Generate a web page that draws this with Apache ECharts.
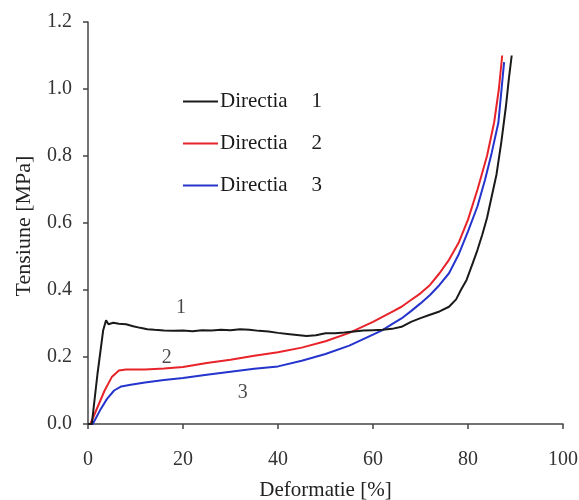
<!DOCTYPE html>
<html>
<head>
<meta charset="utf-8">
<script src="https://cdn.jsdelivr.net/npm/echarts@6/dist/echarts.min.js"></script>
<style>
  html, body { margin: 0; padding: 0; background: #fff; }
  #main { width: 579px; height: 500px; }
</style>
</head>
<body>
<div id="main"></div>
<script>
// deformation [%] vs tension [MPa]
var dir1 = [[0, 0], [0.8, 0], [2, 0.15], [3.2, 0.28], [3.8, 0.31], [4.3, 0.298], [5.3, 0.302], [6.5, 0.299],
  [8, 0.298], [9.5, 0.292], [11, 0.287], [12.5, 0.283], [14, 0.281], [16, 0.279], [18, 0.278], [20, 0.279],
  [22, 0.277], [24, 0.28], [26, 0.279], [28, 0.281], [30, 0.28], [32, 0.283], [34, 0.281], [36, 0.278],
  [38, 0.276], [40, 0.272], [42, 0.269], [44, 0.266], [46, 0.263], [48, 0.265], [50, 0.271], [52, 0.271],
  [54, 0.273], [56, 0.276], [58, 0.279], [60, 0.28], [62, 0.281], [64, 0.284], [66, 0.29], [68, 0.305],
  [70, 0.316], [72, 0.326], [74, 0.336], [76, 0.35], [77.5, 0.372], [78.5, 0.4], [79.7, 0.43], [81, 0.48],
  [82, 0.52], [83, 0.565], [84, 0.615], [85, 0.68], [86, 0.745], [87, 0.84], [88, 0.95], [88.6, 1.03], [89.2, 1.1]];
var dir2 = [[0, 0], [0.5, 0], [2, 0.05], [3.5, 0.1], [5, 0.14], [6.5, 0.16], [8, 0.163], [12, 0.163],
  [16, 0.166], [20, 0.17], [25, 0.182], [30, 0.192], [35, 0.204], [40, 0.214], [45, 0.228], [50, 0.247],
  [55, 0.272], [60, 0.305], [62, 0.32], [64, 0.335], [66, 0.35], [68, 0.37], [70, 0.39], [72, 0.415],
  [74, 0.45], [76, 0.49], [78, 0.54], [80, 0.61], [82, 0.7], [84, 0.8], [85.5, 0.9], [86.5, 1.0], [87.2, 1.1]];
var dir3 = [[0, 0], [1, 0], [2.5, 0.04], [4, 0.075], [5.5, 0.1], [7, 0.112], [9, 0.117], [12, 0.124],
  [16, 0.131], [20, 0.137], [25, 0.147], [30, 0.156], [35, 0.165], [40, 0.172], [45, 0.189], [50, 0.209],
  [55, 0.234], [60, 0.267], [62, 0.28], [64, 0.298], [66, 0.315], [68, 0.337], [70, 0.36], [72, 0.385],
  [74, 0.415], [76, 0.45], [78, 0.505], [80, 0.575], [82, 0.65], [83.6, 0.73], [85, 0.81], [86.4, 0.9], [87.6, 1.08]];
var seriesNames = ['Directia 1', 'Directia 2', 'Directia 3'];
var seriesColors = ['#1a1a1a', '#e8232a', '#2434cc'];
// curve numbers written inside the plot
var curveLabels = [[19.6, 0.346, '1'], [16.6, 0.197, '2'], [32.6, 0.093, '3']];

var serif = '"Liberation Serif", "Times New Roman", serif';
var myChart = echarts.init(document.getElementById('main'));

var lines = [dir1, dir2, dir3].map(function (d, i) {
  return {
    name: seriesNames[i],
    type: 'line',
    data: d,
    showSymbol: false,
    color: seriesColors[i],
    lineStyle: { width: 2, color: seriesColors[i] },
    z: 3 - i
  };
});

lines.push({
  type: 'scatter',
  data: curveLabels,
  symbolSize: 0,
  silent: true,
  label: {
    show: true,
    position: 'inside',
    formatter: function (p) { return p.value[2]; },
    fontFamily: serif,
    fontSize: 20,
    color: '#1a1a1a'
  }
});

var option = {
  animation: false,
  grid: { left: 88, right: 16, top: 22, bottom: 76, containLabel: false, outerBoundsMode: 'none' },
  legend: {
    data: seriesNames,
    orient: 'vertical',
    left: 183,
    top: 91,
    padding: 0,
    itemWidth: 35,
    itemHeight: 2,
    itemGap: 21,
    icon: 'rect',
    formatter: function (name) {
      var parts = name.split(' ');
      return '{a|' + parts[0] + '}{b|' + parts[1] + '}';
    },
    textStyle: {
      fontFamily: serif,
      fontSize: 21,
      color: '#1a1a1a',
      padding: [0, 0, 0, -3],
      rich: {
        a: { fontFamily: serif, fontSize: 21, color: '#1a1a1a' },
        b: { fontFamily: serif, fontSize: 21, color: '#1a1a1a', padding: [0, 0, 0, 24] }
      }
    }
  },
  xAxis: {
    type: 'value',
    min: 0,
    max: 100,
    interval: 20,
    name: 'Deformatie [%]',
    nameLocation: 'middle',
    nameGap: 56,
    nameTextStyle: { fontFamily: serif, fontSize: 21, color: '#222' },
    axisLine: { lineStyle: { color: '#444', width: 1.5 } },
    axisTick: { show: true, length: 5, lineStyle: { color: '#444', width: 1.5 } },
    axisLabel: { margin: 26, fontFamily: serif, fontSize: 20, color: '#333' },
    splitLine: { show: false }
  },
  yAxis: {
    type: 'value',
    min: 0,
    max: 1.2,
    interval: 0.2,
    name: 'Tensiune [MPa]',
    nameLocation: 'middle',
    nameRotate: 90,
    nameGap: 53,
    nameTextStyle: {
      fontFamily: serif, fontSize: 22, color: '#222',
      padding: [0, 6, 0, 0]
    },
    axisLine: { show: true, lineStyle: { color: '#444', width: 1.5 } },
    axisTick: { show: true, length: 5, lineStyle: { color: '#444', width: 1.5 } },
    axisLabel: {
      margin: 16, fontFamily: serif, fontSize: 20, color: '#333',
      formatter: function (v) { return v.toFixed(1); }
    },
    splitLine: { show: false }
  },
  series: lines
};

myChart.setOption(option);
</script>
</body>
</html>
